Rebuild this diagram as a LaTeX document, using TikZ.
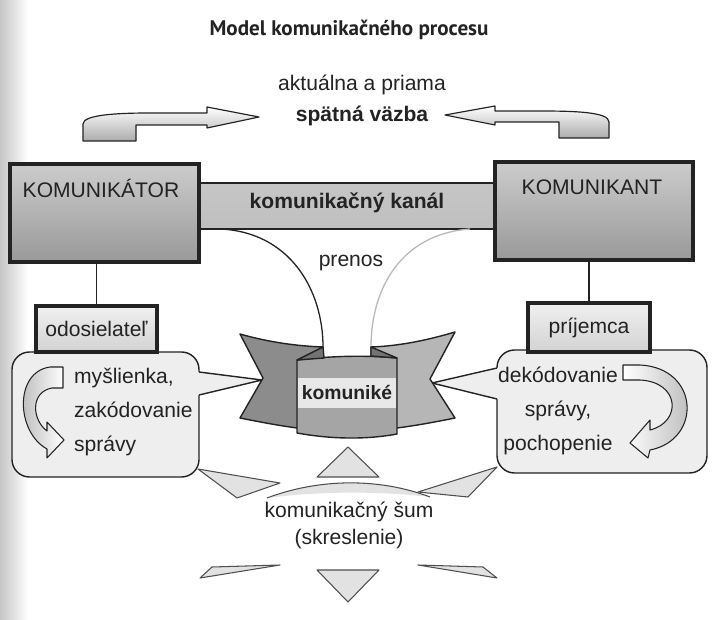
\documentclass[tikz,border=0pt]{standalone}
\usepackage{fontspec}
\setmainfont{Liberation Sans}
\newfontfamily\titlefont{PT Sans}
\usetikzlibrary{calc}
\definecolor{inkDark}{RGB}{35,35,35}
\definecolor{bubbleFill}{RGB}{238,238,238}
\definecolor{noiseFill}{RGB}{226,226,226}
\definecolor{wingDark}{RGB}{140,140,140}
\definecolor{wingLight}{RGB}{182,182,182}
\definecolor{panelGray}{RGB}{165,165,165}
\definecolor{foldGray}{RGB}{115,115,115}

\begin{document}
\begin{tikzpicture}[x=0.03cm,y=-0.03cm,
  every node/.style={font=\fontsize{18}{21}\selectfont,text=inkDark},
  heavy/.style={font=\bfseries\fontsize{18}{21}\selectfont},
  bigbox/.style={draw=inkDark,line width=3.4pt,top color=gray!40,middle color=gray!8,bottom color=gray!80,inner sep=0pt},
  smallbox/.style={draw=inkDark,line width=2.6pt,top color=gray!12,bottom color=gray!35,inner sep=0pt},
  canal/.style={draw=inkDark,line width=1.6pt,top color=gray!45,middle color=gray!5,bottom color=gray!50,inner sep=0pt},
  bubble/.style={draw=inkDark,line width=1.2pt,fill=bubbleFill,rounded corners=15pt,inner sep=0pt},
  feedback/.style={draw=inkDark,line width=1pt,line join=round,top color=white,bottom color=gray!65},
  turn/.style={draw=inkDark,line width=0.9pt,line join=round},
  ribbon/.style={draw=inkDark,line width=1.2pt,line join=round},
  noise/.style={draw=inkDark!80,line width=0.9pt,line join=round,fill=noiseFill}]

  % page and scanner shadow
  \fill[white] (0,0) rectangle (715,620);
  \useasboundingbox (0,0) rectangle (715,620);
  \shade[left color=gray!45,right color=white] (0,0) rectangle (28,620);

  % feedback arrows
  \shadedraw[feedback] (83,141) -- (83,124) .. controls (83,115) and (115,113) .. (150,113) -- (207,113) -- (207,107) -- (259,117) -- (207,128) -- (207,125) -- (136,125) -- (136,141) -- cycle;
  \shadedraw[feedback] (609,138) -- (609,122) .. controls (609,112) and (575,111) .. (540,111) -- (495,111) -- (495,106) -- (445,115) -- (495,125) -- (495,122) -- (559,122) -- (559,138) -- cycle;

  % channel and partners
  \node[canal,minimum width=9.12cm,minimum height=1.38cm] (kanal) at (347,206) {};
  \coordinate (prenosL) at (220,229);
  \coordinate (prenosR) at (470,229);
  \coordinate (foldL) at (323,347);
  \coordinate (foldR) at (371,347);
  \draw[line width=1.1pt,inkDark] (prenosL) .. controls (290,232) and (323,290) .. (foldL);
  \draw[line width=1.1pt,gray!55] (prenosR) .. controls (400,234) and (371,290) .. (foldR);
  \node[bigbox,minimum width=5.67cm,minimum height=2.94cm] (komunikator) at (104.5,213) {};
  \node[bigbox,minimum width=5.94cm,minimum height=2.94cm] (komunikant) at (594,211) {};

  % bubbles
  \node[bubble,minimum width=5.61cm,minimum height=3.75cm] (myslBubble) at (105.5,414.5) {};
  \node[bubble,minimum width=6.3cm,minimum height=3.69cm] (dekodBubble) at (602,411.5) {};
  \coordinate (tipL) at (262,380);
  \coordinate (tipR) at (432,383);
  \fill[bubbleFill] (tipL) -- (196,371.6) -- (196,395.7) -- cycle;
  \draw[line width=1.2pt,inkDark,line join=round] (199,372) -- (tipL) -- (199,395);
  \fill[bubbleFill] (tipR) -- (500,367.3) -- (500,399.7) -- cycle;
  \draw[line width=1.2pt,inkDark,line join=round] (497,368) -- (tipR) -- (497,399);

  \node[smallbox,minimum width=3.63cm,minimum height=1.38cm] (odosielatel) at (96.5,329) {};
  \node[smallbox,minimum width=3.66cm,minimum height=1.47cm] (prijemca) at (589,327.5) {};
  \draw[line width=1.3pt,inkDark] (komunikator.south -| odosielatel.north) -- (odosielatel.north);
  \draw[line width=1.3pt,inkDark] (komunikant.south -| prijemca.north) -- (prijemca.north);

  % turning arrows
  \shadedraw[turn,left color=gray!60,right color=white] (63,367) -- (50,367) .. controls (14,372) and (16,432) .. (47,449) -- (47,458) -- (64,440) -- (47,422) -- (47,431) .. controls (32,420) and (30,392) .. (52,388) -- (63,388) -- cycle;
  \shadedraw[turn,left color=white,right color=gray!60] (623,365) -- (640,365) .. controls (700,368) and (702,440) .. (650,450) -- (648,458) -- (630,443) -- (650,420) -- (650,430) .. controls (682,422) and (680,382) .. (640,380) -- (623,380) -- cycle;

  % komunike ribbon
  \filldraw[ribbon,fill=wingDark] (240,334) .. controls (268,342) and (296,346) .. (foldL) -- (324,430) -- (297,428) .. controls (275,425) and (255,421) .. (240,418) -- (263,378) -- cycle;
  \filldraw[ribbon,fill=wingLight] (455,332) .. controls (428,340) and (400,346) .. (foldR) -- (371,430) -- (397,428) .. controls (420,425) and (440,421) .. (455,418) -- (430,379) -- cycle;
  \filldraw[ribbon,fill=panelGray] (297,360) .. controls (330,356) and (365,355) .. (397,358) -- (397,434) .. controls (365,440) and (330,439) .. (297,433) -- cycle;
  \filldraw[ribbon,fill=foldGray] (297,360) -- (foldL) -- (324,358) -- cycle;
  \filldraw[ribbon,fill=foldGray] (foldR) -- (397,358) -- (371,356) -- cycle;
  \node[heavy,fill=gray!18,minimum width=2.85cm,minimum height=0.9cm,font=\bfseries\fontsize{16.5}{19}\selectfont] (komunike) at (347,393) {komuniké};

  % noise
  \filldraw[noise] (348,447) -- (317,477) -- (379,477) -- cycle;
  \filldraw[noise] (198,469) -- (280,483) -- (237,498) -- cycle;
  \filldraw[noise] (497,467) -- (418,492) -- (468,497) -- cycle;
  \fill[noiseFill] (267,498) .. controls (320,478) and (380,478) .. (430,497) .. controls (380,491) and (320,491) .. (267,498) -- cycle;
  \draw[inkDark!80,line width=0.9pt] (267,498) .. controls (320,478) and (380,478) .. (430,497);
  \filldraw[noise] (200,578) -- (212,567) -- (280,565) -- cycle;
  \filldraw[noise] (317,570) -- (379,570) -- (348,602) -- cycle;
  \filldraw[noise] (418,565) -- (483,567) -- (497,578) -- cycle;

  % texts
  \node[font=\titlefont\bfseries\fontsize{18}{21}\selectfont] (title) at (349,30) {Model komunikačného procesu};
  \node (aktualna) at (362,85) {aktuálna a priama};
  \node[heavy] (spatna) at (362,116) {spätná väzba};
  \node (komunikatorText) at (101,188) {KOMUNIKÁTOR};
  \node (komunikantText) at (592,187) {KOMUNIKANT};
  \node[heavy] (kanalText) at (347,203) {komunikačný kanál};
  \node (prenosText) at (351,263) {prenos};
  \node at (odosielatel) {odosielateľ};
  \node at (prijemca) {príjemca};
  \node[align=left,anchor=west,font=\fontsize{18}{29}\selectfont] (myslText) at (70,412) {myšlienka,\\zakódovanie\\správy};
  \node[align=center,font=\fontsize{18}{29}\selectfont] (dekodText) at (558,411) {dekódovanie\\správy,\\pochopenie};
  \node[align=center,font=\fontsize{18}{23}\selectfont] (sumText) at (349,525) {komunikačný šum\\(skreslenie)};
\end{tikzpicture}
\end{document}
